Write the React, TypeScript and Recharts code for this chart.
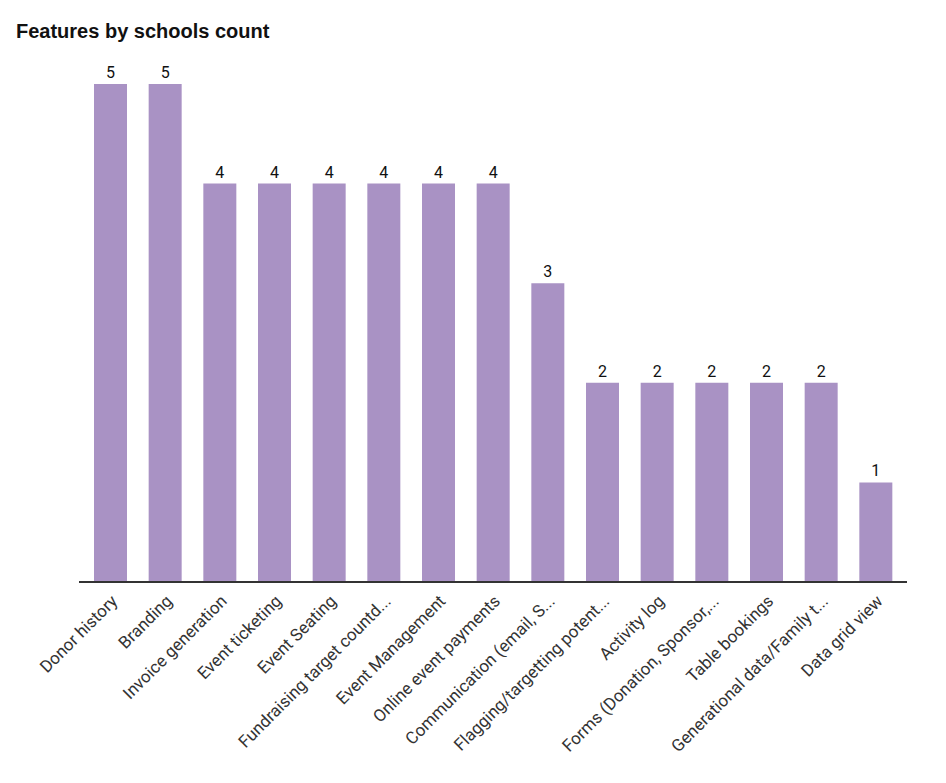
import { BarChart, Bar, XAxis, YAxis, LabelList } from "recharts";

const FEATURES = [
  "Donor history",
  "Branding",
  "Invoice generation",
  "Event ticketing",
  "Event Seating",
  "Fundraising target countd...",
  "Event Management",
  "Online event payments",
  "Communication (email, S...",
  "Flagging/targetting potent...",
  "Activity log",
  "Forms (Donation, Sponsor,...",
  "Table bookings",
  "Generational data/Family t...",
  "Data grid view",
];

const SCHOOL_COUNTS = [5, 5, 4, 4, 4, 4, 4, 4, 3, 2, 2, 2, 2, 2, 1];

const CHART_DATA = FEATURES.map((name, i) => ({ name, count: SCHOOL_COUNTS[i] }));

const BAR_COLOR = "#a992c4";
const FONT = "Roboto, 'Noto Sans', sans-serif";

function AngledTick({ x, y, payload }: { x?: number; y?: number; payload?: { value: string } }) {
  return (
    <g transform={`translate(${(x ?? 0) + 4},${(y ?? 0) + 8})`}>
      <text
        x={0}
        y={0}
        dy="0.35em"
        textAnchor="end"
        transform="rotate(-45)"
        fill="#333"
        fontSize={17}
        fontFamily={FONT}
      >
        {payload?.value}
      </text>
    </g>
  );
}

export default function App() {
  return (
    <div
      style={{
        position: "absolute",
        left: 0,
        top: 0,
        width: 946,
        height: 783,
        background: "#fff",
      }}
    >
      <div
        style={{
          position: "absolute",
          left: 16,
          top: 20,
          fontFamily: "'Liberation Sans', Arial, sans-serif",
          fontWeight: "bold",
          fontSize: 20,
          color: "#111",
        }}
      >
        Features by schools count
      </div>
      <BarChart
        width={946}
        height={783}
        data={CHART_DATA}
        margin={{ top: 84, right: 39, left: 79, bottom: 171 }}
      >
        <XAxis
          dataKey="name"
          interval={0}
          tickLine={false}
          axisLine={{ stroke: "#333", strokeWidth: 2 }}
          padding={{ left: 4, right: 4 }}
          tick={<AngledTick />}
        />
        <YAxis hide domain={[0, 5]} />
        <Bar dataKey="count" fill={BAR_COLOR} barSize={33} isAnimationActive={false}>
          <LabelList
            dataKey="count"
            position="top"
            offset={6}
            fill="#111"
            fontSize={16}
            fontFamily={FONT}
          />
        </Bar>
      </BarChart>
    </div>
  );
}
